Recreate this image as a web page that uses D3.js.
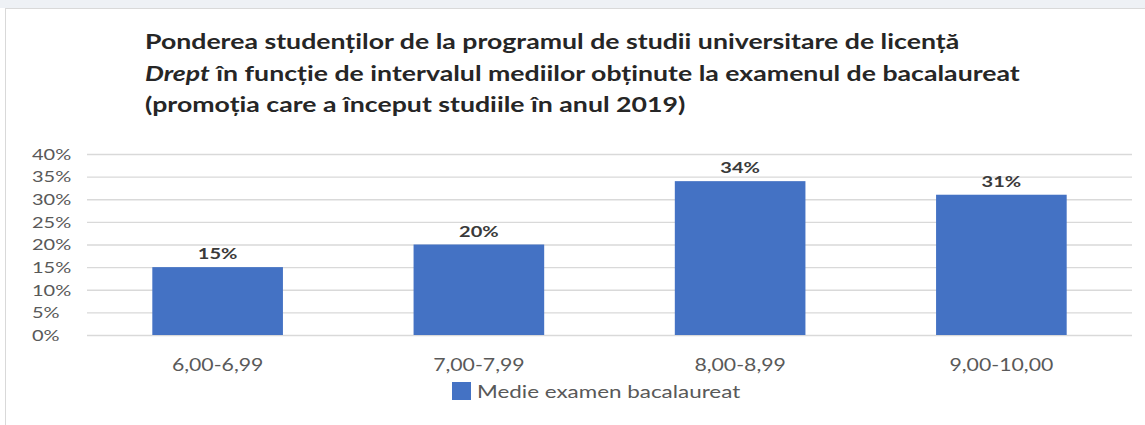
<!DOCTYPE html>
<html>
<head>
<meta charset="utf-8">
<script src="https://cdn.jsdelivr.net/npm/d3@7"></script>
<style>
  html, body { margin: 0; padding: 0; background: #fff; }
  svg { display: block; }
</style>
</head>
<body>
<div id="chart"></div>
<script>
// data
const categories = ["6,00-6,99", "7,00-7,99", "8,00-8,99", "9,00-10,00"]
const values = [15, 20, 34, 31]
const yTicks = [0, 5, 10, 15, 20, 25, 30, 35, 40]
const seriesName = "Medie examen bacalaureat"
const titleLines = [
    [{t: "Ponderea studenților de la programul de studii universitare de licență"}],
    [{t: "Drept", italic: true}, {t: " în funcție de intervalul mediilor obținute la examenul de bacalaureat"}],
    [{t: "(promoția care a început studiile în anul 2019)"}]
]

const W = 1145, H = 425
const font = "Lato, 'Open Sans', sans-serif"
const barColor = "#4472C4"
const stretch = 1.25   // the source picture is wider than Lato, widen text a bit

var margin = {top: 154, right: 13, bottom: 90, left: 87},
    width = W - margin.left - margin.right,
    height = 335 - margin.top

var svg = d3.select("#chart")
    .append("svg")
    .attr("width", W)
    .attr("height", H)

function widen(sel, k) {
    k = k || stretch
    sel.each(function () {
        var len = this.getComputedTextLength()
        d3.select(this)
            .attr("textLength", len * k)
            .attr("lengthAdjust", "spacingAndGlyphs")
    })
}

// screenshot strip on top + panel border
svg.append("rect").attr("x", 0).attr("y", 0).attr("width", W).attr("height", 8).attr("fill", "#eef1f5")
svg.append("rect").attr("x", 5.5).attr("y", 8.5).attr("width", W).attr("height", H)
    .attr("fill", "#fff").attr("stroke", "#d9d9d9")

// title, one text per line
titleLines.forEach((line, i) => {
    var t = svg.append("text")
        .attr("x", 145)
        .attr("y", 49 + i * 31.5)
        .style("font-family", font)
        .style("font-weight", "bold")
        .style("font-size", "21px")
        .attr("fill", "#262626")
    line.forEach(part => {
        var ts = t.append("tspan").text(part.t)
        if (part.italic) ts.style("font-style", "italic")
    })
    widen(t, 1.27)
})

var g = svg.append("g")
    .attr("transform", "translate(" + margin.left + "," + margin.top + ")")

var x = d3.scaleBand()
    .domain(categories)
    .range([0, width])
    .paddingInner(0.5)
    .paddingOuter(0.25)

var y = d3.scaleLinear()
    .domain([0, 40])
    .range([height, 0])

// gridlines
g.selectAll(".grid")
    .data(yTicks)
    .enter()
    .append("line")
    .attr("x1", 0)
    .attr("x2", width)
    .attr("y1", d => y(d) + 0.5)
    .attr("y2", d => y(d) + 0.5)
    .attr("stroke", "#d9d9d9")
    .attr("stroke-width", 1.3)

// y tick labels (left aligned like the picture)
g.selectAll(".ylab")
    .data(yTicks)
    .enter()
    .append("text")
    .attr("x", 32 - margin.left)
    .attr("y", d => y(d))
    .attr("dy", "0.36em")
    .style("font-family", font)
    .style("font-size", "16px")
    .attr("fill", "#595959")
    .text(d => d + "%")
    .call(widen)

// bars
g.selectAll(".bar")
    .data(values)
    .enter()
    .append("rect")
    .attr("x", (d, i) => x(categories[i]))
    .attr("y", d => y(d))
    .attr("width", x.bandwidth())
    .attr("height", d => height - y(d))
    .attr("fill", barColor)

// value labels
g.selectAll(".vlab")
    .data(values)
    .enter()
    .append("text")
    .attr("x", (d, i) => x(categories[i]) + x.bandwidth() / 2)
    .attr("y", d => y(d) - 8)
    .attr("text-anchor", "middle")
    .style("font-family", font)
    .style("font-size", "16px")
    .style("font-weight", "bold")
    .attr("fill", "#3a3a3a")
    .text(d => d + "%")
    .call(widen)

// x labels
var xAxis = g.append("g")
    .attr("transform", "translate(0," + height + ")")
    .call(d3.axisBottom(x).tickSize(0).tickPadding(23))
xAxis.select(".domain").remove()
xAxis.selectAll("text")
    .attr("dy", "0.36em")
    .attr("y", 30)
    .style("font-family", font)
    .style("font-size", "17px")
    .attr("fill", "#595959")
    .call(widen)

// legend
var legend = svg.append("g").attr("transform", "translate(452,382)")
legend.append("rect").attr("width", 19).attr("height", 18).attr("fill", barColor)
legend.append("text")
    .attr("x", 25)
    .attr("y", 10)
    .attr("dy", "0.36em")
    .style("font-family", font)
    .style("font-size", "17.5px")
    .attr("fill", "#595959")
    .text(seriesName)
    .call(widen, 1.28)
</script>
</body>
</html>
